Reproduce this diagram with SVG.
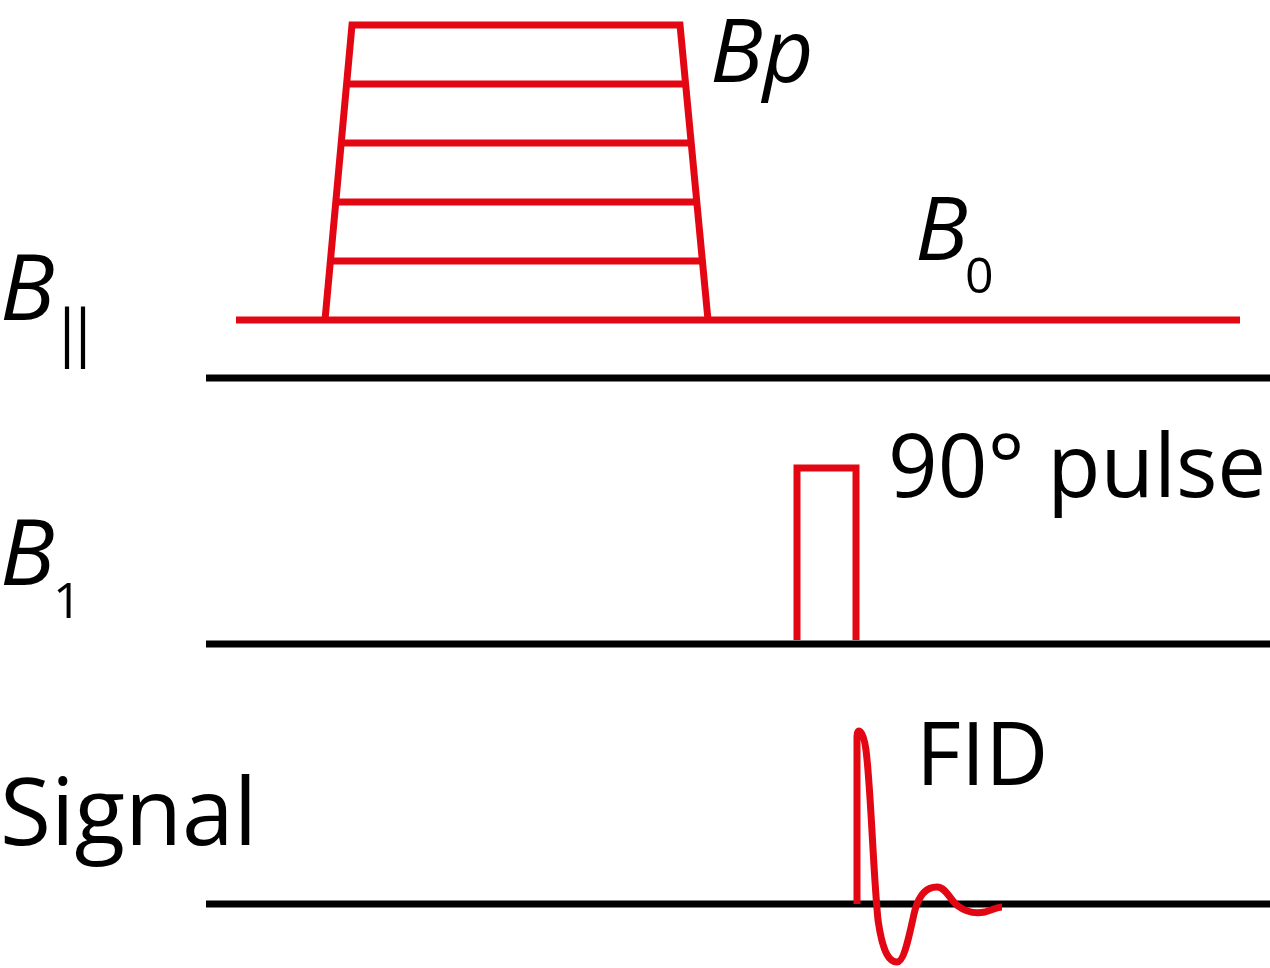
<svg xmlns="http://www.w3.org/2000/svg" width="1270" height="968" viewBox="0 0 1270 968">
<style>
.r{fill:none;stroke:#e30613;stroke-width:7;}
.k{fill:none;stroke:#000;stroke-width:7;}
.t{font-family:"Open Sans","Liberation Sans",sans-serif;fill:#000;}
.i{font-style:italic;}
</style>
<rect width="1270" height="968" fill="#fff"/>
<g id="axes">
<line class="k" x1="206" y1="378" x2="1270" y2="378"/>
<line class="k" x1="206" y1="644" x2="1270" y2="644"/>
<line class="k" x1="206" y1="904" x2="1270" y2="904"/>
</g>
<g id="bpar">
<line class="r" x1="236" y1="320" x2="1240" y2="320"/>
<polyline class="r" points="325,320 352,25 680,25 708,320"/>
<line class="r" x1="347" y1="84" x2="686" y2="84"/>
<line class="r" x1="341" y1="143" x2="691" y2="143"/>
<line class="r" x1="336" y1="202" x2="697" y2="202"/>
<line class="r" x1="330" y1="261" x2="702" y2="261"/>
</g>
<g id="pulse">
<polyline class="r" points="797,640 797,468 856,468 856,640"/>
</g>
<g id="fid">
<path class="r" d="M857,904 V736 C857,728 863,728 866,750 C871,790 873,870 878,920 C883,955 890,962 897,962 C905,962 910,930 915,910 C920,892 928,887 937,887 C946,887 950,900 958,906 C966,912 975,914 985,912 C992,910 998,907 1002,907"/>
</g>
<g id="labels">
<text class="t i" x="0" y="320" font-size="91">B</text>
<text class="t" x="50" y="354" font-size="62" letter-spacing="-18">||</text>
<text class="t i" x="0" y="585" font-size="91">B</text>
<text class="t" x="53" y="618" font-size="50">1</text>
<text class="t" x="0" y="845" font-size="93">Signal</text>
<text class="t i" x="710" y="82" font-size="88">Bp</text>
<text class="t i" x="915" y="260" font-size="88">B</text>
<text class="t" x="965" y="293" font-size="50">0</text>
<text class="t" x="888" y="497" font-size="87">90° pulse</text>
<text class="t" x="916" y="785" font-size="87">FID</text>
</g>
</svg>
